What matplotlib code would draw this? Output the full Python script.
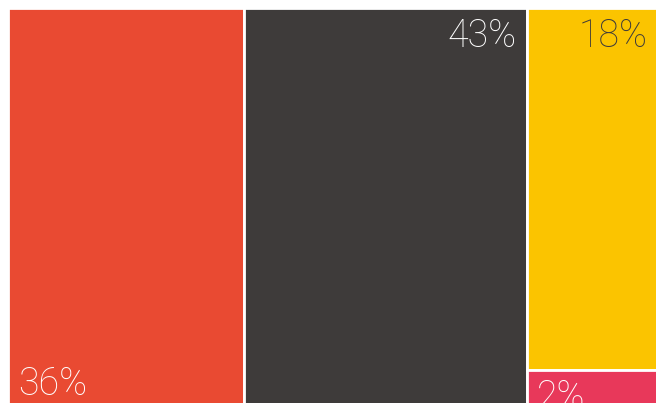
import matplotlib
matplotlib.use("Agg")
import matplotlib.pyplot as plt
from matplotlib.patches import Rectangle

labels = ["36%", "43%", "18%", "2%"]
values = [36, 43, 18, 2]
colors = ["#E94A32", "#3E3B3A", "#FBC400", "#E8385A"]
text_colors = ["white", "white", "#3E3B3A", "white"]

W_PX, H_PX = 656, 403
fig = plt.figure(figsize=(W_PX / 100, H_PX / 100), dpi=100)
# axes slightly extends beyond the bottom/right edge (clipped like the reference)
left, top, aw, ah = 8, 8, 650, 402
ax = fig.add_axes([left / W_PX, (H_PX - top - ah) / H_PX, aw / W_PX, ah / H_PX])
ax.set_xlim(0, sum(values))
ax.set_ylim(1, 0)
ax.axis("off")

# treemap layout: first two values as full-height columns, last two stacked
col_total = values[2] + values[3]
rects = [
    (0, 0, values[0], 1),
    (values[0], 0, values[1], 1),
    (values[0] + values[1], 0, col_total, values[2] / col_total),
    (values[0] + values[1], values[2] / col_total, col_total, values[3] / col_total),
]
for (x, y, w, h), c in zip(rects, colors):
    ax.add_patch(Rectangle((x, y), w, h, facecolor=c, edgecolor="white",
                           linewidth=2.0, clip_on=False))

font = dict(family=["Roboto", "DejaVu Sans"], fontweight="light", fontsize=27)
# placement: 0 bottom-left, 1/2 top-right, 3 top-left
(x, y, w, h) = rects[0]
ax.annotate(labels[0], (x, y + h), xytext=(7.5, 10.5), textcoords="offset points",
            ha="left", va="baseline", color=text_colors[0], **font)
for i in (1, 2):
    (x, y, w, h) = rects[i]
    ax.annotate(labels[i], (x + w, y), xytext=(-7.5, -6.5), textcoords="offset points",
                ha="right", va="top", color=text_colors[i], **font)
(x, y, w, h) = rects[3]
ax.annotate(labels[3], (x, y), xytext=(7.5, -6.5), textcoords="offset points",
            ha="left", va="top", color=text_colors[3], **font)

fig.savefig("out.png", dpi=100, facecolor="white")
